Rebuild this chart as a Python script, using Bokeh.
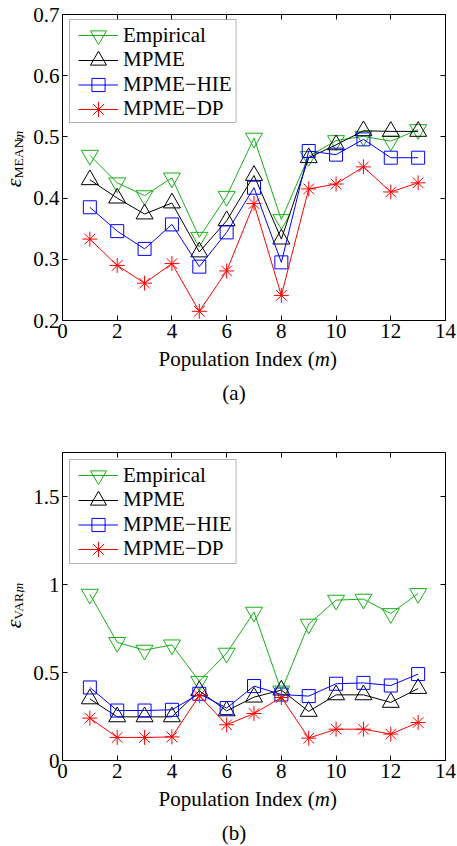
from bokeh.embed import file_html
from bokeh.layouts import column, row
from bokeh.models import (BoxAnnotation, ColumnDataSource, CustomJSTickFormatter,
                          FixedTicker, Label, Legend, LegendItem, LinearAxis, Range1d)
from bokeh.plotting import figure
from bokeh.resources import INLINE

# ---------------------------------------------------------------- data
population_index = [1, 2, 3, 4, 5, 6, 7, 8, 9, 10, 11, 12, 13]
series_names = ["Empirical", "MPME", "MPME\u2212HIE", "MPME\u2212DP"]

# (a) error of the estimated mean per population
mean_empirical = [0.470, 0.425, 0.404, 0.433, 0.336, 0.403, 0.498, 0.365, 0.468, 0.494, 0.501, 0.493, 0.512]
mean_mpme = [0.430, 0.400, 0.374, 0.392, 0.312, 0.363, 0.437, 0.333, 0.466, 0.487, 0.510, 0.509, 0.509]
mean_mpme_hie = [0.385, 0.346, 0.317, 0.357, 0.288, 0.344, 0.417, 0.295, 0.477, 0.471, 0.496, 0.466, 0.466]
mean_mpme_dp = [0.333, 0.290, 0.261, 0.293, 0.215, 0.281, 0.391, 0.241, 0.415, 0.423, 0.451, 0.410, 0.425]

# (b) error of the estimated variance per population
var_empirical = [0.945, 0.671, 0.627, 0.657, 0.450, 0.610, 0.843, 0.395, 0.775, 0.911, 0.917, 0.835, 0.949]
var_mpme = [0.350, 0.248, 0.248, 0.248, 0.396, 0.282, 0.360, 0.400, 0.279, 0.373, 0.373, 0.330, 0.409]
var_mpme_hie = [0.415, 0.284, 0.284, 0.288, 0.379, 0.298, 0.423, 0.375, 0.366, 0.436, 0.441, 0.426, 0.491]
var_mpme_dp = [0.241, 0.131, 0.131, 0.134, 0.368, 0.203, 0.267, 0.358, 0.127, 0.178, 0.178, 0.150, 0.216]

x_ticks = [0, 2, 4, 6, 8, 10, 12, 14]
mean_y_ticks = [0.2, 0.3, 0.4, 0.5, 0.6, 0.7]
var_y_ticks = [0, 0.5, 1, 1.5]

# ---------------------------------------------------------------- style
SERIF = "Liberation Serif"
FS = 21
FONT = f"{FS}px"
MID = 0.34                    # baseline -> middle of the text box, in em
SERIES_STYLE = [
    dict(color="#17b017", marker="inverted_triangle", size=17, legend_h=42),
    dict(color="#000000", marker="triangle", size=17, legend_h=42),
    dict(color="#0000ff", marker="square", size=13, legend_h=33),
    dict(color="#ff0000", marker="asterisk", size=15, legend_h=38),
]
W = 457
STRIP_W = 30                  # column holding the rotated y label
FRAME_L, FRAME_R = 61, 445    # frame edges across the whole page
X_LO, X_HI = 0, 14
# advance widths (em) of Times-metric text pieces, used to chain them
EM = {"Population Index (": 7.444, "m": 0.722, "MEAN,": 3.194, "VAR,": 2.361}


def style_axis(ax, ticks, labelled):
    ax.ticker = FixedTicker(ticks=ticks)
    ax.formatter = CustomJSTickFormatter(code="return String(tick);" if labelled else "return '';")
    ax.axis_line_color = None
    ax.major_tick_in = 5
    ax.major_tick_out = 0
    ax.major_tick_line_color = "black"
    ax.major_tick_line_width = 1
    ax.minor_tick_line_color = None
    ax.major_label_text_font = SERIF
    ax.major_label_text_font_size = FONT
    ax.major_label_text_color = "black"
    ax.major_label_standoff = 3 if labelled else 0


def pixel_canvas(width, height):
    """A bare figure whose data coordinates are its own pixels (y downwards)."""
    f = figure(width=width, height=height, output_backend="svg", toolbar_location=None,
               x_range=Range1d(0, width), y_range=Range1d(height, 0),
               x_axis_location=None, y_axis_location=None,
               min_border=0, min_border_left=0, min_border_right=0,
               min_border_top=0, min_border_bottom=0,
               background_fill_color="white", border_fill_color="white")
    f.grid.visible = False
    f.outline_line_color = None
    return f


def make_panel(series, y_lo, y_hi, y_ticks, sub_word, caption,
               top, frame_h, bottom, legend_top, legend_bottom, row0, split_y, text_h):
    plot_h = top + frame_h + bottom
    p = figure(width=W - STRIP_W, height=plot_h, output_backend="svg", toolbar_location=None,
               x_range=Range1d(X_LO, X_HI), y_range=Range1d(y_lo, y_hi),
               min_border_left=FRAME_L - STRIP_W, min_border_right=W - FRAME_R,
               min_border_top=top, min_border_bottom=bottom,
               background_fill_color="white", border_fill_color="white")
    p.grid.visible = False
    p.outline_line_color = "black"
    p.outline_line_width = 1

    # page pixel offsets (relative to this panel's top) -> data coordinates
    def dx(px):
        return X_LO + (px - FRAME_L) * (X_HI - X_LO) / (FRAME_R - FRAME_L)

    def dy(py):
        return y_hi - (py - top) * (y_hi - y_lo) / frame_h

    style_axis(p.xaxis[0], x_ticks, True)
    style_axis(p.yaxis[0], y_ticks, True)
    right = LinearAxis()
    above = LinearAxis()
    style_axis(right, y_ticks, False)
    style_axis(above, x_ticks, False)
    p.add_layout(right, "right")
    p.add_layout(above, "above")

    entries = []
    for name, vals, st in zip(series_names, series, SERIES_STYLE):
        src = ColumnDataSource(dict(m=population_index, v=vals))
        lr = p.line("m", "v", source=src, line_color=st["color"], line_width=1)
        sr = p.scatter("m", "v", source=src, marker=st["marker"], size=st["size"],
                       line_color=st["color"], fill_color=None, line_width=1)
        entries.append((name, lr, sr, st))

    # legend frame, then one single-entry legend per series
    p.add_layout(BoxAnnotation(left=dx(68), right=dx(235),
                               top=dy(top + legend_top), bottom=dy(top + legend_bottom),
                               fill_color="white", fill_alpha=1.0,
                               line_color="black", line_width=1))
    for i, (name, lr, sr, st) in enumerate(entries):
        gh = st["legend_h"]
        centre = row0 + 24.5 * i
        p.add_layout(Legend(items=[LegendItem(label=name, renderers=[lr, sr])],
                            location=(77 - FRAME_L, frame_h - centre - gh / 2),
                            glyph_width=40, glyph_height=gh, spacing=0, padding=0, margin=0,
                            label_standoff=5, label_text_font=SERIF, label_text_font_size=FONT,
                            label_text_color="black", label_text_baseline="middle",
                            border_line_color=None, background_fill_alpha=0))

    # rotated y label: epsilon with an upright / italic subscript
    strip = pixel_canvas(STRIP_W, plot_h)
    eps_size, sub_size = 22, 13.5
    rot = dict(angle=90, angle_units="deg", text_baseline="middle",
               text_font=SERIF, text_color="black")
    eps_base, sub_base = 20, 22.5
    strip.add_layout(Label(x=eps_base - MID * eps_size, y=split_y, text="\u03b5",
                           text_align="right", text_font_style="italic",
                           text_font_size=f"{eps_size}px", **rot))
    strip.add_layout(Label(x=sub_base - MID * sub_size, y=split_y, text=sub_word,
                           text_align="left", text_font_size=f"{sub_size}px", **rot))
    strip.add_layout(Label(x=sub_base - MID * sub_size, y=split_y - EM[sub_word] * sub_size,
                           text="m", text_align="left", text_font_style="italic",
                           text_font_size=f"{sub_size}px", **rot))

    # x label (italic m) and caption below the panel
    txt = pixel_canvas(W, text_h)
    xl_mid = frame_h + top + 46 - plot_h - MID * FS
    flat = dict(text_baseline="middle", text_align="left", text_font=SERIF,
                text_font_size=FONT, text_color="black")
    x0 = 158
    x1 = x0 + EM["Population Index ("] * FS
    x2 = x1 + EM["m"] * FS
    txt.add_layout(Label(x=x0, y=xl_mid, text="Population Index (", **flat))
    txt.add_layout(Label(x=x1, y=xl_mid, text="m", text_font_style="italic", **flat))
    txt.add_layout(Label(x=x2, y=xl_mid, text=")", **flat))
    txt.add_layout(Label(x=233.5, y=xl_mid + 34, text=caption, text_align="center",
                         text_baseline="middle", text_font=SERIF, text_font_size=FONT,
                         text_color="black"))
    return column(row(strip, p, spacing=0), txt, spacing=0)


panel_a = make_panel([mean_empirical, mean_mpme, mean_mpme_hie, mean_mpme_dp],
                     0.2, 0.7, mean_y_ticks, "MEAN,", "(a)",
                     top=14, frame_h=306, bottom=27, legend_top=5, legend_bottom=108,
                     row0=21, split_y=186, text_h=76)
panel_b = make_panel([var_empirical, var_mpme, var_mpme_hie, var_mpme_dp],
                     0.0, 1.75, var_y_ticks, "VAR,", "(b)",
                     top=29, frame_h=308, bottom=26, legend_top=7, legend_bottom=111,
                     row0=23, split_y=197, text_h=60)

page = column(panel_a, panel_b, spacing=0)
open("out.html", "w").write(file_html(page, INLINE))
